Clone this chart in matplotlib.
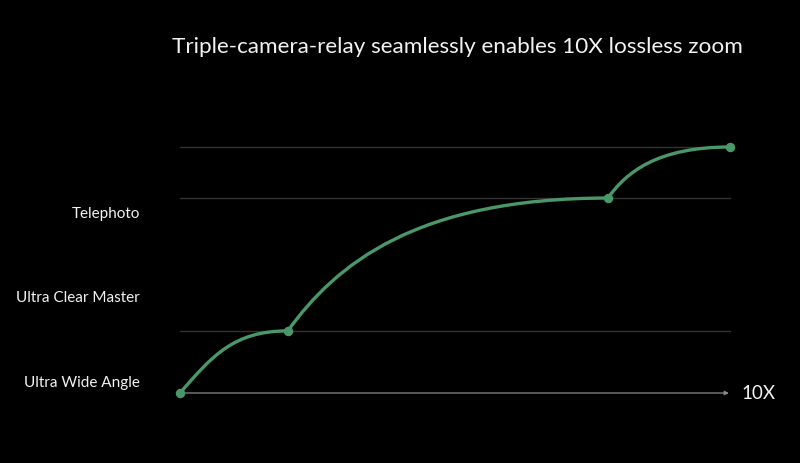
import matplotlib
matplotlib.use("Agg")
import matplotlib.pyplot as plt
from matplotlib.path import Path
from matplotlib.patches import PathPatch

# ---- data ----
title = "Triple-camera-relay seamlessly enables 10X lossless zoom"
camera_labels = ["Ultra Wide Angle", "Ultra Clear Master", "Telephoto"]
zoom_x = [0.0, 1.96, 7.78, 10.0]        # relative zoom position of relay points
quality_y = [0.0, 1.01, 3.17, 4.0]      # image-quality level at each relay point
end_label = "10X"

# ---- style ----
BG = "black"
GREEN = "#4a986a"
GRID = "#333333"
AXIS = "#8a8a8a"
TXT = "#f2f2f2"
FONT = ["Lato", "DejaVu Sans"]

fig = plt.figure(figsize=(8, 4.64), dpi=100, facecolor=BG)
ax = fig.add_axes([180/800, 70/464, 550/800, 246/464])
ax.set_facecolor(BG)
ax.set_xlim(0, 10)
ax.set_ylim(0, 4)
ax.axis("off")

# gridlines at relay levels
for y in quality_y[1:]:
    ax.plot([zoom_x[0], zoom_x[-1]], [y, y], color=GRID, lw=1.0, zorder=1,
            clip_on=False)

# baseline axis with arrow
ax.annotate("", xy=(zoom_x[-1] - 0.02, 0), xytext=(zoom_x[0], 0),
            arrowprops=dict(arrowstyle="-|>", color=AXIS, lw=0.9,
                            mutation_scale=6, shrinkA=0, shrinkB=0),
            zorder=2, annotation_clip=False)

# smooth ease-out segments between relay points (curve tension per segment)
tension = [(0.30, 0.60, 0.50), (0.15, 0.50, 0.60), (0.15, 0.50, 0.60)]
for i in range(len(zoom_x) - 1):
    k, b, m = tension[i]
    x0, y0, x1, y1 = zoom_x[i], quality_y[i], zoom_x[i+1], quality_y[i+1]
    dx, dy = x1 - x0, y1 - y0
    verts = [(x0, y0), (x0 + k*dx, y0 + b*dy), (x1 - m*dx, y1), (x1, y1)]
    codes = [Path.MOVETO, Path.CURVE4, Path.CURVE4, Path.CURVE4]
    ax.add_patch(PathPatch(Path(verts, codes), fill=False, edgecolor=GREEN,
                           lw=2.4, capstyle="round", zorder=3, clip_on=False))

ax.plot(zoom_x, quality_y, linestyle="none", marker="o", ms=5.8,
        color=GREEN, zorder=4, clip_on=False)

# labels on the left
label_y = [0.18, 1.56, 2.93]
for lab, y in zip(camera_labels, label_y):
    ax.text(-0.73, y, lab, ha="right", va="center", color=TXT,
            fontsize=11.0, family=FONT, clip_on=False)

ax.text(10.2, 0, end_label, ha="left", va="center", color=TXT,
        fontsize=13.5, family=FONT, clip_on=False)

fig.text(457/800, 1 - 47/464, title, ha="center", va="center", color=TXT,
         fontsize=16.2, family=FONT)

fig.savefig("out.png", dpi=100, facecolor=BG)
